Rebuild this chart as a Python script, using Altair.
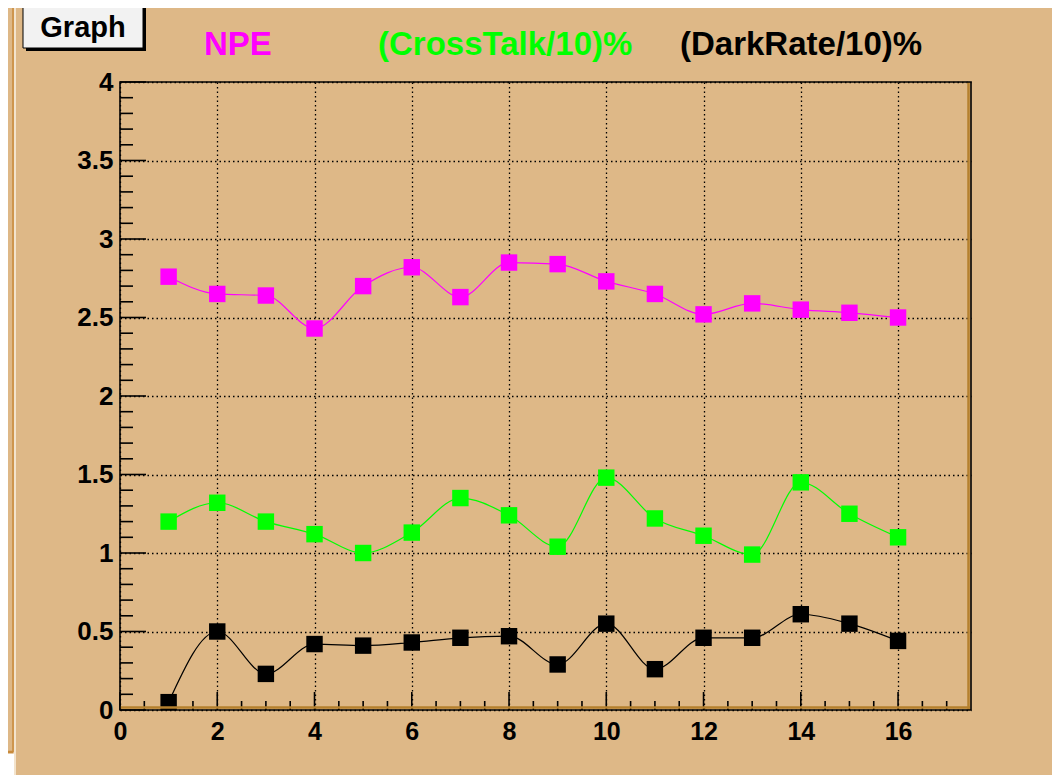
import altair as alt
import pandas as pd

# ---------------- data ----------------
channels = list(range(1, 17))
npe = [2.76, 2.65, 2.64, 2.43, 2.70, 2.82, 2.63, 2.85, 2.84, 2.73, 2.65, 2.52, 2.59, 2.55, 2.53, 2.50]
crosstalk = [1.20, 1.32, 1.20, 1.12, 1.00, 1.13, 1.35, 1.24, 1.04, 1.48, 1.22, 1.11, 0.99, 1.45, 1.25, 1.10]
darkrate = [0.05, 0.50, 0.23, 0.42, 0.41, 0.43, 0.46, 0.47, 0.29, 0.55, 0.26, 0.46, 0.46, 0.61, 0.55, 0.44]
series_names = ["NPE", "(CrossTalk/10)%", "(DarkRate/10)%"]
series_colors = ["#ff00ff", "#00ff00", "#000000"]
x_labels = [0, 2, 4, 6, 8, 10, 12, 14, 16]
y_labels = [0, 0.5, 1, 1.5, 2, 2.5, 3, 3.5, 4]
x_minor = [v / 2 for v in range(0, 35) if v % 4 != 0]
y_minor = [v / 10 for v in range(0, 41) if v % 5 != 0]
title_text = "Graph"

df = pd.DataFrame({
    "x": channels * 3,
    "y": npe + crosstalk + darkrate,
    "s": [series_names[0]] * 16 + [series_names[1]] * 16 + [series_names[2]] * 16,
})

W, H = 851, 628
FONT = "Liberation Sans"
BG = "#DEB887"

xs = alt.Scale(domain=[0, 17.5], nice=False, zero=False)
ys = alt.Scale(domain=[0, 4], nice=False, zero=False)
cs = alt.Scale(domain=series_names, range=series_colors)

xaxis = alt.Axis(
    values=x_labels, title=None, grid=True, ticks=False, domain=False, format="~g",
    labelFlush=False, labelOverlap=False, labelPadding=9, labelFontSize=25,
    gridColor="black", gridDash=[1.5, 3], gridWidth=1.3, gridOpacity=1)
yaxis = alt.Axis(
    values=y_labels, title=None, grid=True, ticks=False, domain=False, format="~g",
    labelFlush=False, labelOverlap=False, labelPadding=7, labelFontSize=26,
    gridColor="black", gridDash=[1.5, 3], gridWidth=1.3, gridOpacity=1)

base = alt.Chart(df)

lines = base.mark_line(interpolate="monotone", strokeWidth=1.2).encode(
    x=alt.X("x:Q", scale=xs, axis=xaxis),
    y=alt.Y("y:Q", scale=ys, axis=yaxis),
    color=alt.Color("s:N", scale=cs, legend=None),
    detail="s:N",
)

points = base.mark_square(size=270, opacity=1, filled=True).encode(
    x=alt.X("x:Q", scale=xs, axis=xaxis),
    y=alt.Y("y:Q", scale=ys, axis=yaxis),
    color=alt.Color("s:N", scale=cs, legend=None),
)

# ticks (drawn inside the frame, ROOT style)
xmaj = alt.Chart(pd.DataFrame({"x": x_labels})).mark_rule(color="black", strokeWidth=1.6).encode(
    x=alt.X("x:Q", scale=xs, axis=xaxis), y=alt.value(H), y2=alt.value(H - 18))
xmin = alt.Chart(pd.DataFrame({"x": x_minor})).mark_rule(color="black", strokeWidth=1.6).encode(
    x=alt.X("x:Q", scale=xs, axis=xaxis), y=alt.value(H), y2=alt.value(H - 9))
ymaj = alt.Chart(pd.DataFrame({"y": y_labels})).mark_rule(color="black", strokeWidth=1.6).encode(
    y=alt.Y("y:Q", scale=ys, axis=yaxis), x=alt.value(0), x2=alt.value(26))
ymin = alt.Chart(pd.DataFrame({"y": y_minor})).mark_rule(color="black", strokeWidth=1.6).encode(
    y=alt.Y("y:Q", scale=ys, axis=yaxis), x=alt.value(0), x2=alt.value(13))

one = pd.DataFrame({"k": [0]})

# frame shadow and border
shadow_b = alt.Chart(one).mark_rule(color="#b5802e", strokeWidth=2.5).encode(
    x=alt.value(0), x2=alt.value(W - 1), y=alt.value(H - 2.5))
shadow_r = alt.Chart(one).mark_rule(color="#b5802e", strokeWidth=2.5).encode(
    x=alt.value(W - 2.5), y=alt.value(0), y2=alt.value(H))
frame = alt.Chart(one).mark_rect(fill=None, stroke="black", strokeWidth=1.6).encode(
    x=alt.value(0), x2=alt.value(W), y=alt.value(0), y2=alt.value(H))

# left window-edge decorations
edge1 = alt.Chart(one).mark_rule(color="#c88a3a", strokeWidth=1.5).encode(
    x=alt.value(-107), y=alt.value(-74), y2=alt.value(670))
edge2 = alt.Chart(one).mark_rule(color="#f3e3cc", strokeWidth=2).encode(
    x=alt.value(-105), y=alt.value(-74), y2=alt.value(693))
edge3 = alt.Chart(one).mark_rule(color="#c88a3a", strokeWidth=2.5).encode(
    x=alt.value(-112), x2=alt.value(-107), y=alt.value(670))
edge4 = alt.Chart(one).mark_rect(color="white").encode(
    x=alt.value(-112), x2=alt.value(-106), y=alt.value(671.5), y2=alt.value(693))

# "Graph" title box
box_sh = alt.Chart(one).mark_rect(color="black").encode(
    x=alt.value(-94), x2=alt.value(26), y=alt.value(-74), y2=alt.value(-31))
box = alt.Chart(one).mark_rect(fill="#f2f2f2", stroke="black", strokeWidth=1).encode(
    x=alt.value(-97), x2=alt.value(23), y=alt.value(-77), y2=alt.value(-34))
box_txt = alt.Chart(one).mark_text(
    text=title_text, font=FONT, fontWeight="bold", fontSize=29, color="black",
    align="center", baseline="alphabetic").encode(x=alt.value(-37), y=alt.value(-45))

# legend-like labels
lab_x = [84, 258, 560]
labels = []
for name, col, lx in zip(series_names, series_colors, lab_x):
    labels.append(alt.Chart(one).mark_text(
        text=name, font=FONT, fontWeight="bold", fontSize=33, color=col,
        align="left", baseline="alphabetic").encode(x=alt.value(lx), y=alt.value(-27)))

chart = alt.layer(
    edge4, edge1, edge2, edge3,
    lines, points, xmaj, xmin, ymaj, ymin, shadow_b, shadow_r, frame,
    box_sh, box, box_txt, *labels,
).properties(
    width=W, height=H,
    autosize=alt.AutoSizeParams(type="none"),
    padding={"left": 112, "top": 74, "right": 81, "bottom": 65},
    background=BG,
).configure_view(stroke=None).configure_axis(
    labelFont=FONT, labelFontWeight="bold", labelColor="black",
)

chart.save("out.html", embed_options={"renderer": "svg", "actions": False})
